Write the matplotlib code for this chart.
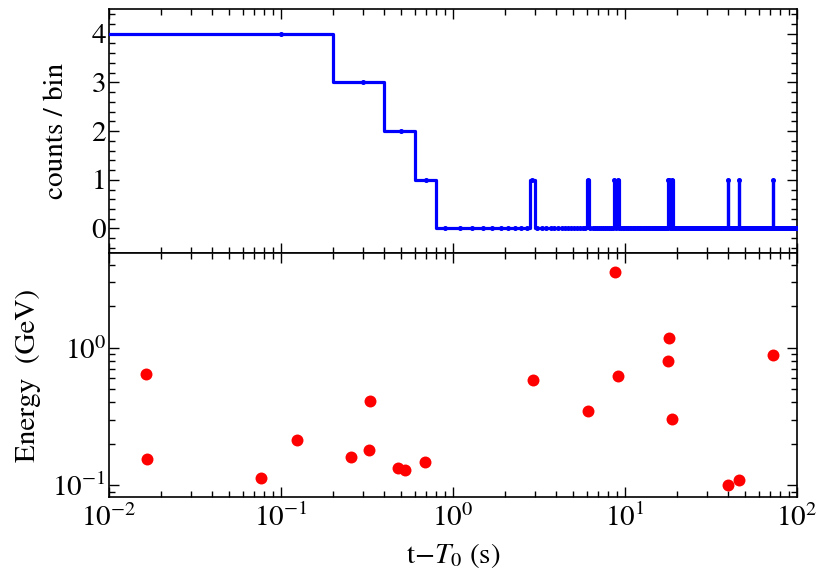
import numpy as np
import matplotlib
matplotlib.use('Agg')
import matplotlib.pyplot as plt
from matplotlib.ticker import LogLocator, MultipleLocator, NullFormatter

plt.rcParams['font.family'] = ['STIXGeneral', 'Liberation Serif', 'DejaVu Serif']
plt.rcParams['mathtext.fontset'] = 'stix'

# ─── data ─────────────────────────────────────────────────
# photon arrival times t - T0 [s] and energies [GeV]
t_evt = [0.0165, 0.0167, 0.077, 0.125, 0.256, 0.326, 0.330, 0.482, 0.525, 0.690,
         2.94, 6.1, 8.75, 9.1, 17.9, 18.1, 18.9, 39.7, 46.3, 72.9]
e_evt = [0.648, 0.154, 0.113, 0.213, 0.160, 0.179, 0.408, 0.133, 0.130, 0.147,
         0.578, 0.344, 3.58, 0.622, 0.80, 1.17, 0.304, 0.100, 0.109, 0.893]

bin_width = 0.2  # s
t_max = 100.0

# ─── histogram (counts / bin) ─────────────────────────────
n_bins = int(round(t_max / bin_width))
edges = np.linspace(0.0, t_max, n_bins + 1)
counts, _ = np.histogram(t_evt, bins=edges)
centers = 0.5 * (edges[:-1] + edges[1:])

blue = '#0000ff'
red = '#ff0000'
fs = 21

fig = plt.figure(figsize=(8.3, 5.76), dpi=100)
ax1 = fig.add_axes([0.131, 0.561, 0.829, 0.423])
ax2 = fig.add_axes([0.131, 0.137, 0.829, 0.424], sharex=ax1)

# 위쪽: 계단 히스토그램
step_x = np.repeat(edges, 2)[1:-1]
step_y = np.repeat(counts, 2)
step_x[0] = 1e-3  # log 축에서 0 대신
ax1.plot(step_x, step_y, '-', color=blue, lw=2.3, zorder=3)
ax1.plot(centers, counts, 'o', color=blue, ms=2.6, zorder=4)
ax1.set_xscale('log')
ax1.set_xlim(1e-2, 1e2)
ax1.set_ylim(-0.5, 4.5)
ax1.yaxis.set_major_locator(MultipleLocator(1))
ax1.yaxis.set_minor_locator(MultipleLocator(0.2))
ax1.set_ylabel('counts / bin', fontsize=fs, labelpad=16)
plt.setp(ax1.get_xticklabels(), visible=False)

# 아래쪽: 에너지 산점도
ax2.plot(t_evt, e_evt, 'o', color=red, ms=8.6, mec='none', zorder=3)
ax2.set_xscale('log')
ax2.set_yscale('log')
ax2.set_xlim(1e-2, 1e2)
ax2.set_ylim(0.082, 4.9)
ax2.yaxis.set_major_locator(LogLocator(base=10, numticks=10))
ax2.yaxis.set_minor_locator(LogLocator(base=10, subs=np.arange(2, 10), numticks=10))
ax2.yaxis.set_minor_formatter(NullFormatter())
ax2.set_ylabel('Energy  (GeV)', fontsize=fs, labelpad=8)
ax2.set_xlabel('t$-T_0$ (s)', fontsize=fs, labelpad=6)

for ax in (ax1, ax2):
    ax.xaxis.set_major_locator(LogLocator(base=10, numticks=10))
    ax.xaxis.set_minor_locator(LogLocator(base=10, subs=np.arange(2, 10), numticks=10))
    ax.xaxis.set_minor_formatter(NullFormatter())
    ax.tick_params(which='both', direction='in', top=True, right=True,
                   labelsize=fs, width=1.0)
    ax.tick_params(which='major', length=7)
    ax.tick_params(which='minor', length=4)
    for s in ax.spines.values():
        s.set_linewidth(1.2)

ax1.tick_params(axis='x', which='both', labelbottom=False)
ax1.tick_params(axis='y', pad=2)
ax2.tick_params(axis='y', pad=2)
ax2.tick_params(axis='x', pad=5)

fig.savefig('out.png', dpi=100)
